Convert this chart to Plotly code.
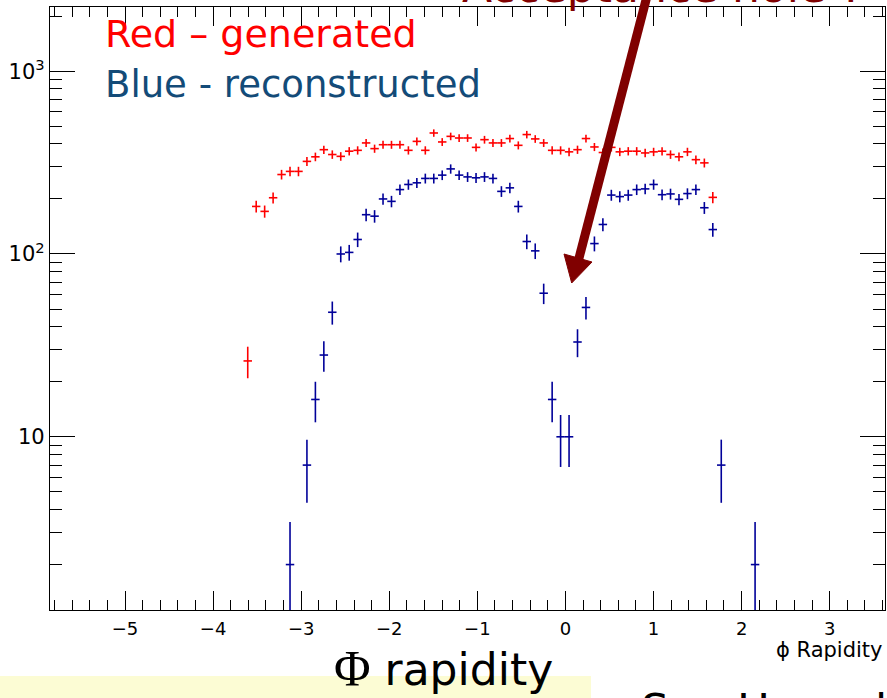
import numpy as np
import plotly.graph_objects as go

# ---------------- data ----------------
red_x = [-3.607, -3.511, -3.415, -3.319, -3.223, -3.127, -3.031, -2.935, -2.839, -2.743,
         -2.647, -2.551, -2.455, -2.359, -2.263, -2.167, -2.071, -1.975, -1.879, -1.783,
         -1.687, -1.591, -1.495, -1.399, -1.303, -1.207, -1.111, -1.015, -0.919, -0.823,
         -0.727, -0.631, -0.535, -0.439, -0.343, -0.247, -0.151, -0.055, 0.041, 0.137,
         0.233, 0.329, 0.425, 0.521, 0.617, 0.713, 0.809, 0.905, 1.001, 1.097,
         1.193, 1.289, 1.385, 1.481, 1.577, 1.673]
red_y = [26, 182, 171, 203, 272, 283, 283, 321, 340, 372,
         350, 342, 365, 369, 405, 377, 396, 396, 396, 369,
         413, 369, 459, 410, 440, 431, 431, 383, 422, 405,
         405, 428, 393, 450, 426, 405, 369, 369, 362, 372,
         428, 385, 359, 383, 362, 365, 365, 357, 362, 365,
         350, 340, 362, 328, 315, 204]

blue_x = [-3.127, -2.935, -2.839, -2.743, -2.647, -2.551, -2.455, -2.359, -2.263, -2.167,
          -2.071, -1.975, -1.879, -1.783, -1.687, -1.591, -1.495, -1.399, -1.303, -1.207,
          -1.111, -1.015, -0.919, -0.823, -0.727, -0.631, -0.535, -0.439, -0.343, -0.247,
          -0.151, -0.055, 0.041, 0.137, 0.233, 0.329, 0.425, 0.521, 0.617, 0.713,
          0.809, 0.905, 1.001, 1.097, 1.193, 1.289, 1.385, 1.481, 1.577, 1.673,
          1.769, 2.153]
blue_y = [2, 7, 16, 28, 48, 100, 102, 120, 164, 161,
          200, 194, 225, 240, 245, 259, 259, 270, 292, 270,
          264, 261, 264, 259, 220, 230, 182, 117, 104, 61,
          16, 10, 10, 33, 51, 114, 145, 210, 206, 210,
          225, 227, 240, 211, 213, 199, 214, 225, 179, 136,
          7, 2]

half_bin = 0.048
y_tickvals = [10, 100, 1000]
y_ticktext = ["10", "10<sup>2</sup>", "10<sup>3</sup>"]
y_minor = [2, 3, 4, 5, 6, 7, 8, 9, 20, 30, 40, 50, 60, 70, 80, 90,
           200, 300, 400, 500, 600, 700, 800, 900, 2000]

RED = "#ff0000"
BLUE = "#000099"
DARKRED = "#800000"
TXTBLUE = "#134b78"
FONT = "DejaVu Sans"

fig = go.Figure()
fig.add_trace(go.Scatter(
    x=red_x, y=red_y, mode="markers",
    marker=dict(size=1, color=RED, opacity=0),
    error_x=dict(type="constant", value=half_bin, width=0, thickness=1.6, color=RED),
    error_y=dict(type="data", array=np.sqrt(red_y).tolist(), width=0, thickness=1.6, color=RED),
    showlegend=False, hoverinfo="x+y"))
fig.add_trace(go.Scatter(
    x=blue_x, y=blue_y, mode="markers",
    marker=dict(size=1, color=BLUE, opacity=0),
    error_x=dict(type="constant", value=half_bin, width=0, thickness=1.6, color=BLUE),
    error_y=dict(type="data", array=np.sqrt(blue_y).tolist(), width=0, thickness=1.6, color=BLUE),
    showlegend=False, hoverinfo="x+y"))

W, H = 887, 698
ML, MR, MT, MB = 50, 2, 7, 88
PW, PH = W - ML - MR, H - MT - MB


def px(x):
    return (x - ML) / PW


def py(y):
    return (MT + PH - y) / PH


fig.update_layout(
    width=W, height=H,
    margin=dict(l=ML, r=MR, t=MT, b=MB, pad=0),
    paper_bgcolor="white", plot_bgcolor="white",
    font=dict(family=FONT, color="black"),
    xaxis=dict(
        range=[-5.852, 3.628], dtick=1, tick0=0,
        showgrid=False, zeroline=False,
        showline=True, linecolor="black", linewidth=1.2, mirror="ticks",
        ticks="inside", ticklen=19, tickwidth=1.2, tickcolor="black",
        minor=dict(ticks="inside", ticklen=10, tickwidth=1.2, tickcolor="black",
                   dtick=0.2, tick0=0, showgrid=False),
        tickfont=dict(family=FONT, size=18, color="black"),
        ticklabelstandoff=2,
    ),
    yaxis=dict(
        type="log", range=[0.0525, 3.351],
        tickmode="array", tickvals=y_tickvals, ticktext=y_ticktext,
        showgrid=False, zeroline=False,
        showline=True, linecolor="black", linewidth=1.2, mirror="ticks",
        ticks="inside", ticklen=25, tickwidth=1.2, tickcolor="black",
        minor=dict(ticks="inside", ticklen=12, tickwidth=1.2, tickcolor="black",
                   tickmode="array", tickvals=y_minor, showgrid=False),
        tickfont=dict(family=FONT, size=21, color="black"),
        ticklabelstandoff=0,
    ),
)

# yellow highlight band behind the big caption
fig.add_shape(type="rect", xref="paper", yref="paper",
              x0=px(0), x1=px(591), y0=py(700), y1=py(676),
              fillcolor="#fcfcd4", line=dict(width=0), layer="below")

# arrow
fig.add_shape(type="line", xref="paper", yref="paper",
              x0=px(648.6), y0=py(-10), x1=px(578), y1=py(262),
              line=dict(color=DARKRED, width=9), layer="above")
fig.add_shape(type="path", xref="paper", yref="paper",
              path=f"M {px(571.7)},{py(283)} L {px(564)},{py(254)} L {px(592)},{py(262)} Z",
              fillcolor=DARKRED, line=dict(color=DARKRED, width=1), layer="above")

annos = [
    dict(text="Red – generated", x=px(104), y=py(47 - 0.346 * 38), xanchor="left", yanchor="middle",
         font=dict(family=FONT, size=38, color=RED)),
    dict(text="Blue - reconstructed", x=px(104), y=py(97 - 0.346 * 37), xanchor="left", yanchor="middle",
         font=dict(family=FONT, size=37, color=TXTBLUE)),
    dict(text="Acceptance hole ?", x=px(461), y=py(2 - 0.346 * 44), xanchor="left", yanchor="middle",
         font=dict(family=FONT, size=44, color=DARKRED)),
    dict(text="ϕ Rapidity", x=px(884), y=py(657 - 0.346 * 21), xanchor="right", yanchor="middle",
         font=dict(family=FONT, size=21, color="black")),
    dict(text='<span style="font-family:Liberation Serif;font-size:50px">Φ</span> rapidity',
         x=px(443), y=py(683 - 0.346 * 44), xanchor="center", yanchor="middle",
         font=dict(family=FONT, size=44, color="black")),
    dict(text="See Hansel", x=px(640), y=py(726 - 0.346 * 44), xanchor="left", yanchor="middle",
         font=dict(family=FONT, size=44, color="black")),
]
for a in annos:
    fig.add_annotation(xref="paper", yref="paper", showarrow=False, borderpad=0, **a)

fig.write_html("out.html")
